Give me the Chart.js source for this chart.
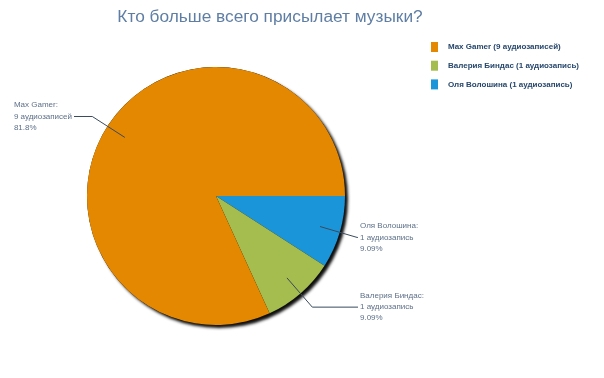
<!DOCTYPE html>
<html>
<head>
<meta charset="utf-8">
<script src="https://cdn.jsdelivr.net/npm/chart.js@4/dist/chart.umd.min.js"></script>
<style>
html,body{margin:0;padding:0;background:#fff;}
#wrap{position:relative;width:604px;height:378px;}
</style>
</head>
<body>
<div id="wrap"><canvas id="c" width="604" height="378"></canvas></div>
<script>
const titleText = 'Кто больше всего присылает музыки?';
const categories = ['Max Gamer', 'Валерия Биндас', 'Оля Волошина'];
const counts = [9, 1, 1];
const units = ['аудиозаписей', 'аудиозапись', 'аудиозапись'];
const percents = ['81.8%', '9.09%', '9.09%'];
const colors = ['#E48701', '#A5BC4E', '#1B95D9'];

// pie is drawn clockwise from 3 o'clock in reverse legend order
const order = [2, 1, 0];

const shadowPlugin = {
  id: 'pieShadow',
  beforeDatasetsDraw(chart) {
    const arc = chart.getDatasetMeta(0).data[0];
    if (!arc) return;
    const ctx = chart.ctx;
    ctx.save();
    ctx.shadowColor = 'rgba(0,0,0,0.95)';
    ctx.shadowBlur = 3;
    ctx.shadowOffsetX = 3;
    ctx.shadowOffsetY = 3;
    ctx.fillStyle = '#000';
    ctx.beginPath();
    ctx.arc(arc.x, arc.y, arc.outerRadius, 0, Math.PI * 2);
    ctx.fill();
    ctx.restore();
  }
};

const labelPlugin = {
  id: 'pieLabels',
  afterDatasetsDraw(chart) {
    const ctx = chart.ctx;
    const meta = chart.getDatasetMeta(0);
    ctx.save();
    meta.data.forEach((arc, i) => {
      const k = order[i];
      const mid = (arc.startAngle + arc.endAngle) / 2;
      const r = arc.outerRadius;
      const cx = arc.x, cy = arc.y;
      const ax = cx + Math.cos(mid) * r * 0.84;
      const ay = cy + Math.sin(mid) * r * 0.84;
      const ex = cx + Math.cos(mid) * r * 1.14;
      const ey = cy + Math.sin(mid) * r * 1.14;
      const right = Math.cos(mid) >= 0;
      const hx = right ? cx + r + 13 : cx - r - 13;
      ctx.strokeStyle = '#3a4a5c';
      ctx.lineWidth = 1;
      ctx.beginPath();
      ctx.moveTo(ax, ay);
      ctx.lineTo(ex, ey);
      ctx.lineTo(right ? Math.max(hx, ex) : Math.min(hx, ex), ey);
      ctx.stroke();
      ctx.font = '8px "Liberation Sans"';
      ctx.fillStyle = '#5e7088';
      ctx.textBaseline = 'middle';
      ctx.textAlign = 'left';
      const lines = [categories[k] + ':', counts[k] + ' ' + units[k], percents[k]];
      const w = ctx.measureText(lines[1]).width;
      const tx = right ? Math.max(hx, ex) + 2 : Math.min(hx, ex) - 2 - w;
      ctx.fillText(lines[0], tx, ey - 11.5);
      ctx.fillText(lines[1], tx, ey);
      ctx.fillText(lines[2], tx, ey + 11);
    });
    ctx.restore();
  }
};

const decorPlugin = {
  id: 'decor',
  afterDraw(chart) {
    const ctx = chart.ctx;
    ctx.save();
    ctx.font = '17.3px "Liberation Sans"';
    ctx.fillStyle = '#5f7ea4';
    ctx.textAlign = 'center';
    ctx.textBaseline = 'alphabetic';
    ctx.fillText(titleText, 270, 21.5);
    ctx.font = 'bold 8px "Liberation Sans"';
    ctx.textAlign = 'left';
    ctx.textBaseline = 'middle';
    categories.forEach((c, k) => {
      const y = 47 + k * 18.7;
      ctx.fillStyle = colors[k];
      ctx.fillRect(431, y - 5, 7, 10);
      ctx.fillStyle = '#27476c';
      ctx.fillText(c + ' (' + counts[k] + ' ' + units[k] + ')', 448, y);
    });
    ctx.restore();
  }
};

new Chart(document.getElementById('c'), {
  type: 'pie',
  data: {
    labels: order.map(k => categories[k]),
    datasets: [{
      data: order.map(k => counts[k]),
      backgroundColor: order.map(k => colors[k]),
      borderWidth: 0,
      hoverOffset: 0
    }]
  },
  options: {
    responsive: false,
    animation: false,
    rotation: 90,
    layout: { padding: { left: 87, right: 259, top: 67, bottom: 53 } },
    plugins: { legend: { display: false }, tooltip: { enabled: false }, title: { display: false } }
  },
  plugins: [shadowPlugin, labelPlugin, decorPlugin]
});
</script>
</body>
</html>
